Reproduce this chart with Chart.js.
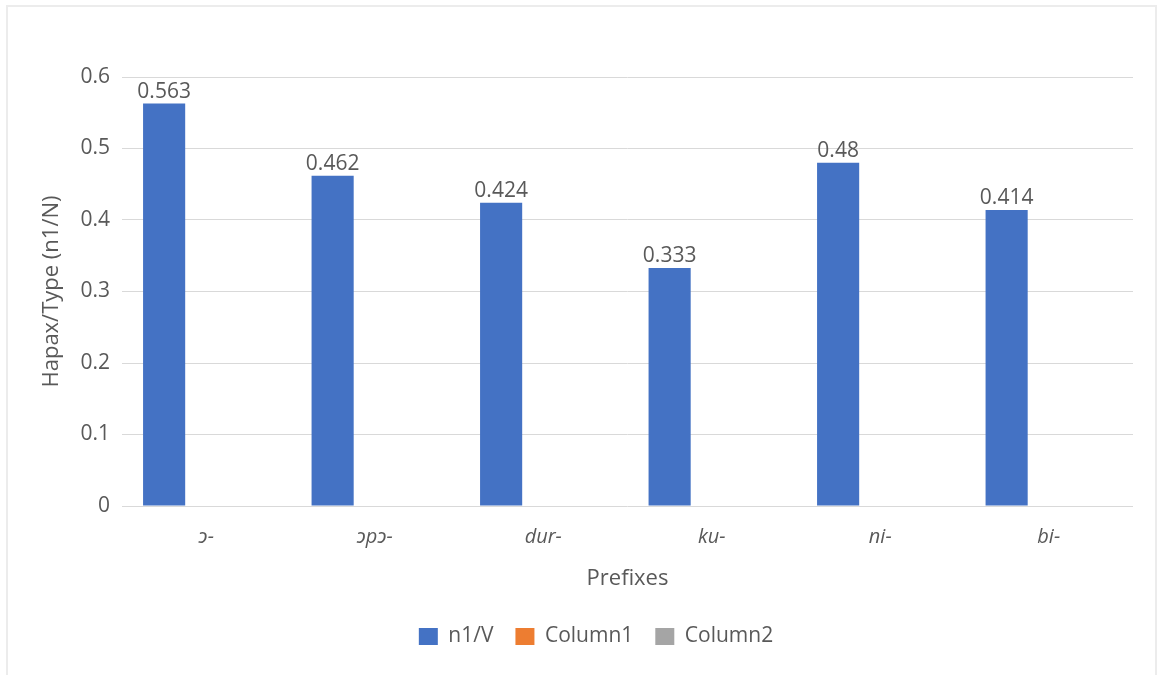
<!DOCTYPE html>
<html>
<head>
<meta charset="utf-8">
<script src="https://cdn.jsdelivr.net/npm/chart.js@4/dist/chart.umd.min.js"></script>
<style>
    html, body { margin: 0; padding: 0; background: #ffffff; }
    #moldura {
        position: absolute; left: 6px; top: 5px;
        width: 1147px; height: 680px;
        border: 2px solid #ececec;
    }
    #caixa {
        position: absolute; left: 37px; top: 0;
        width: 1118px; height: 675px;
    }
</style>
</head>
<body>
<div id="moldura"></div>
<div id="caixa"><canvas id="graficoPrefixos"></canvas></div>
<script>
// DADOS DO GRÁFICO
const prefixos = ["ɔ-", "ɔpɔ-", "dur-", "ku-", "ni-", "bi-"];
const n1V = [0.563, 0.462, 0.424, 0.333, 0.48, 0.414];
const coluna1 = [null, null, null, null, null, null];
const coluna2 = [null, null, null, null, null, null];
const ticksY = [0, 0.1, 0.2, 0.3, 0.4, 0.5, 0.6];

const corTexto = "#595959";
const fonte = "'Open Sans', 'Noto Sans', sans-serif";


// ESCREVE O VALOR ACIMA DE CADA BARRA
const rotulosBarras = {
    id: "rotulosBarras",
    afterDatasetsDraw(chart) {
        const ctx = chart.ctx;
        const meta = chart.getDatasetMeta(0);
        ctx.save();
        ctx.font = "21px " + fonte;
        ctx.fillStyle = corTexto;
        ctx.textAlign = "center";
        ctx.textBaseline = "bottom";
        meta.data.forEach((barra, i) => {
            const valor = chart.data.datasets[0].data[i];
            if (valor == null) return;
            ctx.fillText(String(valor), barra.x, barra.y - 1);
        });
        ctx.restore();
    }
};


// CRIA GRÁFICO
new Chart(document.getElementById("graficoPrefixos"), {
    type: "bar",
    data: {
        labels: prefixos,
        datasets: [
            { label: "n1/V", data: n1V, backgroundColor: "#4472c4" },
            { label: "Column1", data: coluna1, backgroundColor: "#ed7d31" },
            { label: "Column2", data: coluna2, backgroundColor: "#a5a5a5" },
        ],
    },
    options: {
        responsive: true,
        maintainAspectRatio: false,
        animation: false,
        categoryPercentage: 0.75,
        barPercentage: 1,
        layout: {
            padding: { top: 77, right: 22, bottom: 18, left: 22 }
        },
        plugins: {
            tooltip: { enabled: false },
            legend: {
                position: "bottom",
                labels: {
                    boxWidth: 19,
                    boxHeight: 17,
                    padding: 22,
                    color: corTexto,
                    font: { family: fonte, size: 21 },
                },
            },
        },
        scales: {
            x: {
                grid: { display: false },
                border: { display: false },
                ticks: {
                    padding: 11,
                    color: corTexto,
                    font: { family: fonte, size: 20, style: "italic" },
                },
                title: {
                    display: true,
                    text: "Prefixes",
                    color: corTexto,
                    font: { family: fonte, size: 22 },
                    padding: { top: 0, bottom: 12 },
                },
                afterFit: (escala) => { escala.height = 98; },
            },
            y: {
                min: 0,
                max: 0.6,
                afterBuildTicks: (escala) => {
                    escala.ticks = ticksY.map((v) => ({ value: v }));
                },
                grid: { color: "#d9d9d9", drawTicks: false },
                border: { display: false },
                ticks: {
                    padding: 12,
                    color: corTexto,
                    font: { family: fonte, size: 21 },
                    callback: (v) => String(+v.toFixed(1)),
                },
                title: {
                    display: true,
                    text: "Hapax/Type (n1/N)",
                    color: corTexto,
                    font: { family: fonte, size: 22 },
                    // título fica à esquerda da caixa do eixo
                    padding: { top: -20, bottom: 0 },
                },
                afterFit: (escala) => { escala.width = 63; },
            },
        },
    },
    plugins: [rotulosBarras],
});
</script>
</body>
</html>
